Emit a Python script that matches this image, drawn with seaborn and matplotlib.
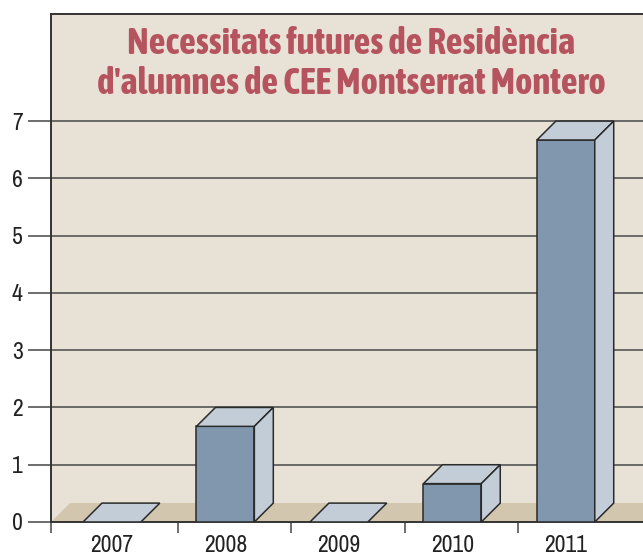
import numpy as np
import matplotlib
matplotlib.use("Agg")
import matplotlib.pyplot as plt
from matplotlib import font_manager as fm
from matplotlib import patheffects as pe
from matplotlib.patches import Polygon
import seaborn as sns

# data
years = ["2007", "2008", "2009", "2010", "2011"]
places = [0, 2, 0, 1, 7]
yticks = [0, 1, 2, 3, 4, 5, 6, 7]
title = "Necessitats futures de Residència\nd'alumnes de CEE Montserrat Montero"


def weight(f):
    w = f.weight
    return w if isinstance(w, int) else fm.weight_dict.get(w, 400)


# look for a condensed face, the reference uses a narrow grotesque
fonts = fm.fontManager.ttflist
narrow = sorted({f.name for f in fonts if "Narrow" in f.name or "Condensed" in f.name})
bold_narrow = [n for n in narrow if any(f.name == n and weight(f) >= 600 for f in fonts)]
stretch = "normal"
if narrow:
    family = narrow[0]
elif any(f.name == "DejaVu Sans" and f.stretch != "normal" for f in fonts):
    family, stretch = "DejaVu Sans", "condensed"
else:
    family = "Roboto"
title_family = bold_narrow[0] if bold_narrow else family
fake_bold = not bold_narrow

sns.set_theme(style="white")
plt.rcParams["font.family"] = [family, "DejaVu Sans"]
plt.rcParams["font.stretch"] = stretch

wall = "#E8E1D5"
floor = "#D3C6AE"
front = "#8097AE"
light = "#C3CDD8"
edge = "#2a2a2a"
grid = "#555555"
red = "#B5535E"

fig = plt.figure(figsize=(6.43, 5.56), dpi=100)
ax = fig.add_axes([51 / 643, 34 / 556, 1 - 51 / 643, 508 / 556])
ax.set_facecolor(wall)

# 3D depth offset in data units
dx, dy = 0.167, 0.33

sns.barplot(x=years, y=places, color=front, width=0.51, saturation=1,
            edgecolor=edge, linewidth=1.1, ax=ax, zorder=3)

ax.set_xlim(-0.537, 4.68)
ax.set_ylim(0, 8.87)
xl, xr = ax.get_xlim()

# floor of the 3D box
ax.add_patch(Polygon([(xl, 0), (xr, 0), (xr, dy), (xl + dx, dy)],
                     closed=True, facecolor=floor, edgecolor="none", zorder=1))

for bar, v in zip(ax.patches[:len(places)], places):
    h = max(v - dy, 0)
    bar.set_height(h)
    x, w = bar.get_x(), bar.get_width()
    ax.add_patch(Polygon([(x, h), (x + w, h), (x + w + dx, h + dy), (x + dx, h + dy)],
                         closed=True, facecolor=light, edgecolor=edge, linewidth=1.1, zorder=3))
    if h > 0:
        ax.add_patch(Polygon([(x + w, 0), (x + w + dx, dy), (x + w + dx, h + dy), (x + w, h)],
                             closed=True, facecolor=light, edgecolor=edge, linewidth=1.1, zorder=3))

ax.set_yticks(yticks)
ax.yaxis.grid(True, color=grid, linewidth=1.2)
ax.set_axisbelow(True)
ax.tick_params(axis="y", left=True, length=16.5, width=1.2, color=grid,
               pad=4, labelsize=17, labelcolor="#222222")
ax.tick_params(axis="x", which="major", bottom=True, length=0, pad=9,
               labelsize=17, labelcolor="#222222")
ax.set_xticks([-0.537, 0.58, 1.58, 2.58, 3.58], minor=True)
ax.tick_params(axis="x", which="minor", bottom=True, length=8, width=1.2, color=grid)
ax.set_xlabel("")
ax.set_ylabel("")

for s in ["left", "bottom", "top"]:
    ax.spines[s].set_visible(True)
    ax.spines[s].set_color("#333333")
    ax.spines[s].set_linewidth(1.4)
ax.spines["right"].set_visible(False)

t = fig.text(0.546, 1 - 64 / 556, title, ha="center", va="center",
             fontsize=26.5, fontweight="bold", color=red, linespacing=1.12,
             family=[title_family, "DejaVu Sans"])
if fake_bold:
    t.set_path_effects([pe.withStroke(linewidth=1.6, foreground=red)])

plt.savefig("out.png", dpi=100)
